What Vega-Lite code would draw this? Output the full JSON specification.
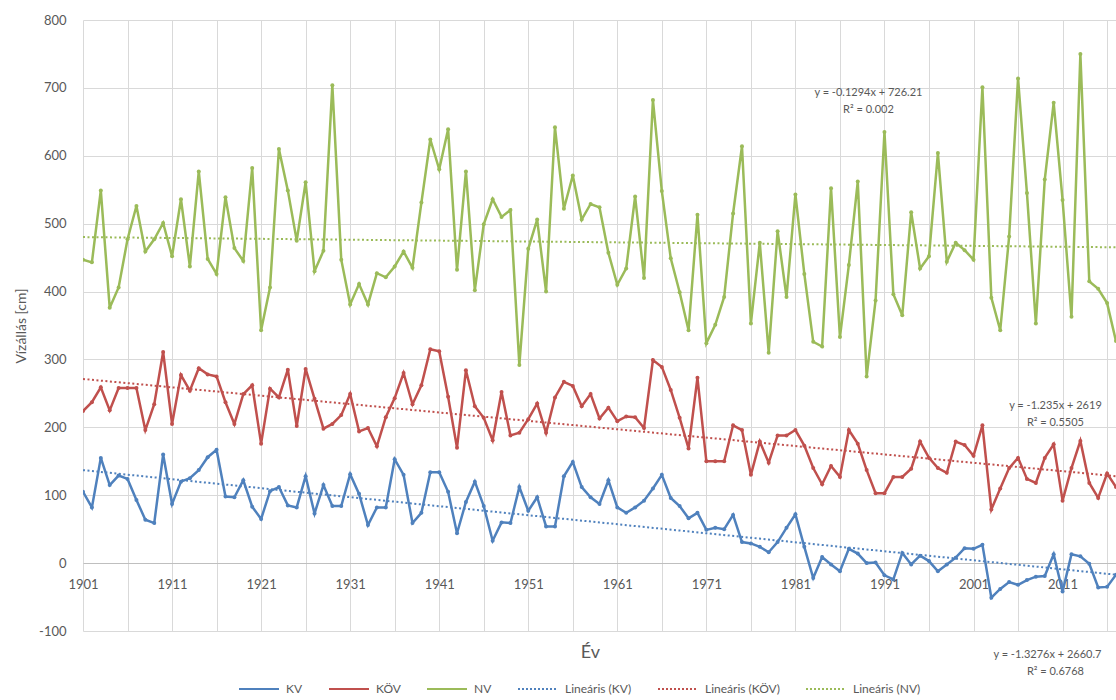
{
  "$schema": "https://vega.github.io/schema/vega-lite/v6.json",
  "width": 1033,
  "height": 611,
  "autosize": {"type": "none"},
  "padding": {"left": 83, "top": 20, "right": 0, "bottom": 69},
  "config": {
    "view": {"stroke": null},
    "font": "Lato",
    "axis": {"labelColor": "#595959", "titleColor": "#595959", "gridColor": "#d9d9d9", "ticks": false, "labelFont": "Lato", "titleFont": "Lato", "titleFontWeight": "normal"},
    "legend": {"labelColor": "#595959", "labelFont": "Lato"}
  },
  "datasets": {
    "vizallas": [
      {"ev": 1901, "KV": 105, "KÖV": 224, "NV": 447},
      {"ev": 1902, "KV": 82, "KÖV": 237, "NV": 443},
      {"ev": 1903, "KV": 155, "KÖV": 259, "NV": 549},
      {"ev": 1904, "KV": 115, "KÖV": 225, "NV": 376},
      {"ev": 1905, "KV": 129, "KÖV": 258, "NV": 406},
      {"ev": 1906, "KV": 124, "KÖV": 258, "NV": 477},
      {"ev": 1907, "KV": 93, "KÖV": 258, "NV": 526},
      {"ev": 1908, "KV": 64, "KÖV": 196, "NV": 459},
      {"ev": 1909, "KV": 59, "KÖV": 234, "NV": 477},
      {"ev": 1910, "KV": 160, "KÖV": 311, "NV": 501},
      {"ev": 1911, "KV": 87, "KÖV": 205, "NV": 452},
      {"ev": 1912, "KV": 120, "KÖV": 277, "NV": 536},
      {"ev": 1913, "KV": 125, "KÖV": 254, "NV": 437},
      {"ev": 1914, "KV": 137, "KÖV": 287, "NV": 577},
      {"ev": 1915, "KV": 156, "KÖV": 278, "NV": 448},
      {"ev": 1916, "KV": 167, "KÖV": 275, "NV": 426},
      {"ev": 1917, "KV": 98, "KÖV": 237, "NV": 539},
      {"ev": 1918, "KV": 97, "KÖV": 205, "NV": 464},
      {"ev": 1919, "KV": 122, "KÖV": 249, "NV": 445},
      {"ev": 1920, "KV": 83, "KÖV": 262, "NV": 582},
      {"ev": 1921, "KV": 65, "KÖV": 176, "NV": 343},
      {"ev": 1922, "KV": 106, "KÖV": 257, "NV": 406},
      {"ev": 1923, "KV": 112, "KÖV": 244, "NV": 610},
      {"ev": 1924, "KV": 85, "KÖV": 285, "NV": 549},
      {"ev": 1925, "KV": 82, "KÖV": 202, "NV": 475},
      {"ev": 1926, "KV": 128, "KÖV": 286, "NV": 561},
      {"ev": 1927, "KV": 73, "KÖV": 242, "NV": 430},
      {"ev": 1928, "KV": 115, "KÖV": 198, "NV": 460},
      {"ev": 1929, "KV": 84, "KÖV": 205, "NV": 704},
      {"ev": 1930, "KV": 84, "KÖV": 218, "NV": 447},
      {"ev": 1931, "KV": 131, "KÖV": 249, "NV": 381},
      {"ev": 1932, "KV": 102, "KÖV": 194, "NV": 411},
      {"ev": 1933, "KV": 56, "KÖV": 199, "NV": 381},
      {"ev": 1934, "KV": 82, "KÖV": 172, "NV": 427},
      {"ev": 1935, "KV": 82, "KÖV": 215, "NV": 421},
      {"ev": 1936, "KV": 153, "KÖV": 243, "NV": 437},
      {"ev": 1937, "KV": 130, "KÖV": 280, "NV": 459},
      {"ev": 1938, "KV": 59, "KÖV": 234, "NV": 435},
      {"ev": 1939, "KV": 74, "KÖV": 262, "NV": 531},
      {"ev": 1940, "KV": 134, "KÖV": 315, "NV": 624},
      {"ev": 1941, "KV": 134, "KÖV": 312, "NV": 580},
      {"ev": 1942, "KV": 105, "KÖV": 245, "NV": 639},
      {"ev": 1943, "KV": 44, "KÖV": 170, "NV": 432},
      {"ev": 1944, "KV": 90, "KÖV": 284, "NV": 577},
      {"ev": 1945, "KV": 120, "KÖV": 231, "NV": 402},
      {"ev": 1946, "KV": 84, "KÖV": 214, "NV": 499},
      {"ev": 1947, "KV": 33, "KÖV": 181, "NV": 536},
      {"ev": 1948, "KV": 60, "KÖV": 252, "NV": 510},
      {"ev": 1949, "KV": 59, "KÖV": 188, "NV": 520},
      {"ev": 1950, "KV": 112, "KÖV": 192, "NV": 292},
      {"ev": 1951, "KV": 77, "KÖV": 212, "NV": 463},
      {"ev": 1952, "KV": 97, "KÖV": 235, "NV": 506},
      {"ev": 1953, "KV": 54, "KÖV": 192, "NV": 400},
      {"ev": 1954, "KV": 54, "KÖV": 244, "NV": 642},
      {"ev": 1955, "KV": 128, "KÖV": 267, "NV": 522},
      {"ev": 1956, "KV": 149, "KÖV": 261, "NV": 571},
      {"ev": 1957, "KV": 112, "KÖV": 231, "NV": 506},
      {"ev": 1958, "KV": 97, "KÖV": 249, "NV": 529},
      {"ev": 1959, "KV": 87, "KÖV": 213, "NV": 524},
      {"ev": 1960, "KV": 122, "KÖV": 229, "NV": 457},
      {"ev": 1961, "KV": 82, "KÖV": 209, "NV": 410},
      {"ev": 1962, "KV": 74, "KÖV": 216, "NV": 434},
      {"ev": 1963, "KV": 82, "KÖV": 215, "NV": 540},
      {"ev": 1964, "KV": 92, "KÖV": 199, "NV": 420},
      {"ev": 1965, "KV": 110, "KÖV": 299, "NV": 682},
      {"ev": 1966, "KV": 130, "KÖV": 289, "NV": 548},
      {"ev": 1967, "KV": 96, "KÖV": 255, "NV": 449},
      {"ev": 1968, "KV": 84, "KÖV": 214, "NV": 399},
      {"ev": 1969, "KV": 66, "KÖV": 169, "NV": 343},
      {"ev": 1970, "KV": 74, "KÖV": 273, "NV": 513},
      {"ev": 1971, "KV": 49, "KÖV": 150, "NV": 324},
      {"ev": 1972, "KV": 52, "KÖV": 150, "NV": 351},
      {"ev": 1973, "KV": 50, "KÖV": 150, "NV": 392},
      {"ev": 1974, "KV": 71, "KÖV": 203, "NV": 515},
      {"ev": 1975, "KV": 31, "KÖV": 196, "NV": 614},
      {"ev": 1976, "KV": 29, "KÖV": 130, "NV": 353},
      {"ev": 1977, "KV": 24, "KÖV": 179, "NV": 472},
      {"ev": 1978, "KV": 16, "KÖV": 148, "NV": 310},
      {"ev": 1979, "KV": 31, "KÖV": 188, "NV": 489},
      {"ev": 1980, "KV": 52, "KÖV": 188, "NV": 392},
      {"ev": 1981, "KV": 72, "KÖV": 196, "NV": 543},
      {"ev": 1982, "KV": 24, "KÖV": 173, "NV": 426},
      {"ev": 1983, "KV": -22, "KÖV": 140, "NV": 326},
      {"ev": 1984, "KV": 9, "KÖV": 116, "NV": 319},
      {"ev": 1985, "KV": -2, "KÖV": 143, "NV": 552},
      {"ev": 1986, "KV": -12, "KÖV": 127, "NV": 333},
      {"ev": 1987, "KV": 21, "KÖV": 196, "NV": 439},
      {"ev": 1988, "KV": 14, "KÖV": 176, "NV": 562},
      {"ev": 1989, "KV": 0, "KÖV": 137, "NV": 275},
      {"ev": 1990, "KV": 1, "KÖV": 103, "NV": 387},
      {"ev": 1991, "KV": -18, "KÖV": 103, "NV": 635},
      {"ev": 1992, "KV": -24, "KÖV": 127, "NV": 396},
      {"ev": 1993, "KV": 15, "KÖV": 127, "NV": 365},
      {"ev": 1994, "KV": -2, "KÖV": 139, "NV": 517},
      {"ev": 1995, "KV": 11, "KÖV": 179, "NV": 434},
      {"ev": 1996, "KV": 3, "KÖV": 155, "NV": 452},
      {"ev": 1997, "KV": -12, "KÖV": 140, "NV": 604},
      {"ev": 1998, "KV": -2, "KÖV": 133, "NV": 444},
      {"ev": 1999, "KV": 8, "KÖV": 179, "NV": 472},
      {"ev": 2000, "KV": 22, "KÖV": 174, "NV": 461},
      {"ev": 2001, "KV": 21, "KÖV": 158, "NV": 447},
      {"ev": 2002, "KV": 27, "KÖV": 203, "NV": 701},
      {"ev": 2003, "KV": -51, "KÖV": 79, "NV": 391},
      {"ev": 2004, "KV": -38, "KÖV": 110, "NV": 343},
      {"ev": 2005, "KV": -28, "KÖV": 140, "NV": 481},
      {"ev": 2006, "KV": -32, "KÖV": 155, "NV": 714},
      {"ev": 2007, "KV": -25, "KÖV": 124, "NV": 545},
      {"ev": 2008, "KV": -20, "KÖV": 118, "NV": 353},
      {"ev": 2009, "KV": -19, "KÖV": 155, "NV": 565},
      {"ev": 2010, "KV": 13, "KÖV": 175, "NV": 678},
      {"ev": 2011, "KV": -42, "KÖV": 92, "NV": 535},
      {"ev": 2012, "KV": 13, "KÖV": 140, "NV": 363},
      {"ev": 2013, "KV": 10, "KÖV": 180, "NV": 750},
      {"ev": 2014, "KV": -1, "KÖV": 118, "NV": 415},
      {"ev": 2015, "KV": -36, "KÖV": 96, "NV": 404},
      {"ev": 2016, "KV": -35, "KÖV": 132, "NV": 383},
      {"ev": 2017, "KV": -17, "KÖV": 112, "NV": 327}
    ],
    "trendek": [
      {"sorozat": "Lineáris (KV)", "ev": 1901, "vizallas": 136.93},
      {"sorozat": "Lineáris (KV)", "ev": 2017, "vizallas": -17.07},
      {"sorozat": "Lineáris (KÖV)", "ev": 1901, "vizallas": 271.27},
      {"sorozat": "Lineáris (KÖV)", "ev": 2017, "vizallas": 128.0},
      {"sorozat": "Lineáris (NV)", "ev": 1901, "vizallas": 480.22},
      {"sorozat": "Lineáris (NV)", "ev": 2017, "vizallas": 465.21}
    ],
    "egyenletek": [
      {"szoveg": "y = -0.1294x + 726.21", "ev": 1989.2, "vizallas": 692},
      {"szoveg": "R² = 0.002", "ev": 1989.2, "vizallas": 667},
      {"szoveg": "y = -1.235x + 2619", "ev": 2010.2, "vizallas": 231},
      {"szoveg": "R² = 0.5505", "ev": 2010.2, "vizallas": 206},
      {"szoveg": "y = -1.3276x + 2660.7", "ev": 2009.3, "vizallas": -135},
      {"szoveg": "R² = 0.6768", "ev": 2010.2, "vizallas": -160}
    ]
  },
  "encoding": {
    "x": {
      "field": "ev",
      "type": "quantitative",
      "scale": {"domain": [1901, 2017], "nice": false, "zero": false},
      "axis": {
        "title": "Év",
        "titleFontSize": 18,
        "titlePadding": 52,
        "titleX": 507,
        "values": [1901, 1906, 1911, 1916, 1921, 1926, 1931, 1936, 1941, 1946, 1951, 1956, 1961, 1966, 1971, 1976, 1981, 1986, 1991, 1996, 2001, 2006, 2011, 2016],
        "format": "d",
        "labelExpr": "(datum.value - 1901) % 10 == 0 ? datum.label : ''",
        "labelFlush": false,
        "labelFontSize": 13,
        "labelPadding": 15,
        "offset": -68,
        "grid": true,
        "domainColor": "#bfbfbf"
      }
    },
    "y": {
      "field": "vizallas",
      "type": "quantitative",
      "scale": {"domain": [-100, 800], "nice": false},
      "axis": {
        "title": "Vízállás [cm]",
        "titleFontSize": 14,
        "titlePadding": 10,
        "values": [-100, 0, 100, 200, 300, 400, 500, 600, 700, 800],
        "labelExpr": "'' + datum.value",
        "labelFontSize": 13,
        "labelPadding": 17,
        "domain": false
      }
    }
  },
  "layer": [
    {
      "data": {"name": "vizallas"},
      "transform": [{"fold": ["KV", "KÖV", "NV"], "as": ["sorozat", "vizallas"]}],
      "mark": {"type": "line", "strokeWidth": 2.5, "clip": true, "point": {"filled": true, "size": 16}},
      "encoding": {
        "color": {
          "field": "sorozat",
          "type": "nominal",
          "scale": {
            "domain": ["KV", "KÖV", "NV", "Lineáris (KV)", "Lineáris (KÖV)", "Lineáris (NV)"],
            "range": ["#4f81bd", "#c0504d", "#9bbb59", "#4f81bd", "#c0504d", "#9bbb59"]
          },
          "legend": {
            "title": null,
            "orient": "none",
            "direction": "horizontal",
            "legendX": 155,
            "legendY": 648,
            "padding": 0,
            "symbolType": "stroke",
            "symbolSize": 1600,
            "symbolStrokeWidth": 2,
            "labelFontSize": 12,
            "labelOffset": 6,
            "columnPadding": 22,
            "encode": {
              "symbols": {
                "update": {
                  "strokeDash": {"signal": "indexof(datum.value, 'Lineáris') === 0 ? [2, 2] : [1, 0]"}
                }
              }
            }
          }
        },
        "order": {"field": "ev", "type": "quantitative"}
      }
    },
    {
      "data": {"name": "trendek"},
      "mark": {"type": "line", "strokeWidth": 2, "strokeDash": [2, 2.5], "clip": true},
      "encoding": {
        "color": {"field": "sorozat", "type": "nominal"}
      }
    },
    {
      "data": {"name": "egyenletek"},
      "mark": {"type": "text", "fontSize": 11, "color": "#595959", "align": "center", "baseline": "middle"},
      "encoding": {
        "text": {"field": "szoveg", "type": "nominal"}
      }
    }
  ]
}
